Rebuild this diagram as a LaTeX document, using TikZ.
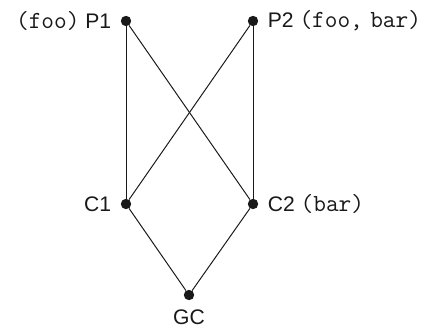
\documentclass[tikz,border=0pt]{standalone}
\usepackage{fontspec}
\setmainfont{Liberation Sans}
\setsansfont{Liberation Sans}
\usetikzlibrary{positioning}
\definecolor{ink}{RGB}{25,25,25}
\tikzset{
    line cap=round,
    line join=round,
    vertex/.style={
        circle,
        fill=ink,
        inner sep=0pt,
        minimum size=0.26cm
    },
    vlabel/.style={
        font=\fontsize{15}{18}\selectfont,
        text=ink,
        inner sep=0pt
    },
    edge/.style={
        draw=ink,
        line width=0.7pt
    }
}
\newcommand{\tagtext}[1]{{\ttfamily\fontsize{17.5}{18}\selectfont\spaceskip=0.3em\relax #1}}

\begin{document}
\begin{tikzpicture}[label distance=6.5pt]
\useasboundingbox (0,0) rectangle (11,8.225);

% Parents
\node[vertex, label={[vlabel]left:\tagtext{(foo)} P1}] (p1) at (3.15, 7.7) {};
\node[vertex, label={[vlabel]right:P2 \tagtext{(foo, bar)}}] (p2) at (6.325, 7.7) {};

% Children
\node[vertex, label={[vlabel]left:C1}] (c1) at (3.15, 3.125) {};
\node[vertex, label={[vlabel]right:C2 \tagtext{(bar)}}] (c2) at (6.325, 3.125) {};

% Grandchild
\node[vertex, label={[vlabel]below:GC}] (gc) at (4.725, 0.85) {};

\draw[edge] (p1) -- (c1);
\draw[edge] (p1) -- (c2);
\draw[edge] (p2) -- (c1);
\draw[edge] (p2) -- (c2);
\draw[edge] (c1) -- (gc);
\draw[edge] (c2) -- (gc);

\end{tikzpicture}
\end{document}
